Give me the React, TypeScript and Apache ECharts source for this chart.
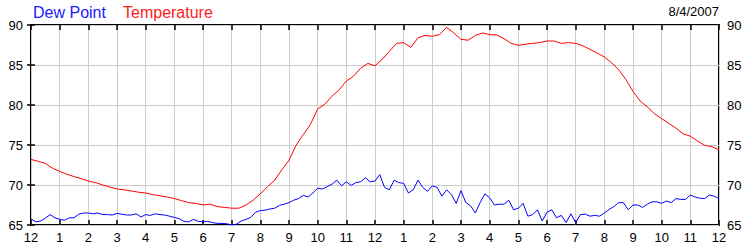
import React, { useEffect, useRef } from "react";
import * as echarts from "echarts";

// Hour tick labels (0..24)
const hourLabels = ["12", "1", "2", "3", "4", "5", "6", "7", "8", "9", "10", "11", "12", "1", "2", "3", "4", "5", "6", "7", "8", "9", "10", "11", "12"];
const yTicks = [65, 70, 75, 80, 85, 90];

// Temperature, every 15 minutes from 0:00 to 24:00 (°F)
const temperature = [
  73.2, 72.96, 72.7, 72.1, 71.7, 71.35, 71.05, 70.8, 70.5, 70.3, 70.0, 69.75, 69.5, 69.4, 69.25, 69.1, 69.0,
  68.8, 68.65, 68.5, 68.3, 68.05, 67.8, 67.7, 67.5, 67.6, 67.3, 67.2, 67.1, 67.1, 67.5, 68.1, 68.9,
  69.8, 70.6, 71.9, 73.1, 75.0, 76.3, 77.6, 79.5, 80.1, 81.1, 81.9, 83.0, 83.6, 84.6, 85.2, 84.9,
  85.7, 86.7, 87.7, 87.8, 87.2, 88.4, 88.7, 88.6, 88.8, 89.7, 89.0, 88.2, 88.1, 88.7, 89.0, 88.8,
  88.75, 88.3, 87.7, 87.45, 87.6, 87.7, 87.8, 88.0, 88.0, 87.7, 87.8, 87.7, 87.4, 86.95, 86.5, 86.0,
  85.3, 84.4, 83.2, 81.7, 80.5, 79.75, 78.9, 78.3, 77.7, 77.1, 76.4, 76.1, 75.5, 74.95, 74.8, 74.4,
];

// Dew point, every 10 minutes from 0:00 to 24:00 (°F)
const dewPoint = [
  65.75, 65.4, 65.5, 65.85, 66.3, 65.9, 65.7, 65.6, 65.9, 65.9, 66.35, 66.5, 66.5, 66.4, 66.5, 66.3, 66.3, 66.25, 66.45, 66.35, 66.25, 66.25, 66.4, 66.0, 66.3,
  66.2, 66.4, 66.3, 66.25, 66.1, 65.95, 65.8, 65.45, 65.4, 65.7, 65.45, 65.4, 65.45, 65.3, 65.2, 65.2, 65.15, 65.0, 65.1, 65.5, 65.7, 65.95, 66.6, 66.8,
  66.85, 67.0, 67.1, 67.45, 67.6, 67.8, 68.1, 68.3, 68.7, 68.5, 69.0, 69.6, 69.5, 69.8, 70.1, 70.6, 69.9, 70.4, 69.95, 70.3, 70.4, 70.9, 70.4, 70.5,
  71.3, 69.7, 69.4, 70.6, 70.3, 70.2, 69.0, 69.4, 70.6, 69.7, 69.2, 69.9, 69.7, 68.6, 69.4, 68.8, 67.7, 69.3, 67.8, 67.4, 66.5, 67.8, 68.9, 68.4,
  67.5, 67.6, 67.6, 68.1, 66.9, 67.1, 67.7, 66.1, 66.3, 66.9, 65.5, 66.6, 66.9, 65.9, 66.2, 65.3, 66.4, 65.3, 66.3, 66.35, 66.1, 66.2, 66.1, 66.5,
  66.95, 67.3, 67.8, 67.8, 66.9, 67.5, 67.5, 67.2, 67.6, 67.9, 67.9, 67.7, 68.0, 67.8, 68.3, 68.2, 68.2, 68.75, 68.5, 68.35, 68.3, 68.75, 68.6, 68.3,
];

const dateText = "8/4/2007";
const FONT = "'Liberation Sans', Arial, sans-serif";

export default function App() {
  const ref = useRef<HTMLDivElement>(null);

  useEffect(() => {
    if (!ref.current) return;
    const chart = echarts.init(ref.current, null, { renderer: "svg" });

    const tempData = temperature.map((v, i) => [i / 4, v]);
    const dewData = dewPoint.map((v, i) => [i / 6, v]);

    const xCommon = {
      type: "value" as const,
      min: 0,
      max: 24,
      interval: 1,
    };
    const yCommon = {
      type: "value" as const,
      min: yTicks[0],
      max: yTicks[yTicks.length - 1],
      interval: 5,
    };

    chart.setOption({
      animation: false,
      backgroundColor: "#ffffff",
      textStyle: { fontFamily: FONT },
      grid: {
        left: 31,
        right: 31,
        top: 25,
        bottom: 25,
        show: true,
        borderColor: "#000",
        borderWidth: 2,
        backgroundColor: "transparent",
      },
      xAxis: [
        {
          ...xCommon,
          position: "bottom",
          axisLine: { show: false },
          axisTick: { show: true, inside: true, length: 5, lineStyle: { color: "#000", width: 1.5 } },
          splitLine: { show: true, lineStyle: { color: "#cccccc", width: 1 } },
          axisLabel: {
            show: true,
            margin: 6,
            fontSize: 13,
            color: "#000",
            fontFamily: FONT,
            showMinLabel: true,
            showMaxLabel: true,
            formatter: (v: number) => hourLabels[Math.round(v)] ?? "",
          },
        },
        {
          ...xCommon,
          position: "top",
          axisLine: { show: false },
          axisTick: { show: true, inside: true, length: 5, lineStyle: { color: "#000", width: 1.5 } },
          splitLine: { show: false },
          axisLabel: { show: false },
        },
      ],
      yAxis: [
        {
          ...yCommon,
          position: "left",
          axisLine: { show: false },
          axisTick: { show: true, inside: true, length: 4, lineStyle: { color: "#000", width: 1.5 } },
          splitLine: { show: true, lineStyle: { color: "#cccccc", width: 1 } },
          axisLabel: { show: true, margin: 8, fontSize: 13, color: "#000", fontFamily: FONT },
        },
        {
          ...yCommon,
          position: "right",
          axisLine: { show: false },
          axisTick: { show: true, inside: true, length: 4, lineStyle: { color: "#000", width: 1.5 } },
          splitLine: { show: false },
          axisLabel: { show: true, margin: 8, fontSize: 13, color: "#000", fontFamily: FONT },
        },
      ],
      graphic: [
        {
          type: "text",
          left: 33,
          top: 4,
          style: { text: "Dew Point", fill: "#1a1aff", fontSize: 16, fontFamily: FONT },
        },
        {
          type: "text",
          left: 123,
          top: 4,
          style: { text: "Temperature", fill: "#ff1a1a", fontSize: 16, fontFamily: FONT },
        },
        {
          type: "text",
          right: 31,
          top: 5,
          style: { text: dateText, fill: "#000", fontSize: 13, fontFamily: FONT },
        },
      ],
      series: [
        {
          name: "Temperature",
          type: "line",
          xAxisIndex: 0,
          yAxisIndex: 0,
          data: tempData,
          showSymbol: false,
          smooth: false,
          lineStyle: { color: "#ff0000", width: 1 },
          itemStyle: { color: "#ff0000" },
          z: 3,
        },
        {
          name: "Dew Point",
          type: "line",
          xAxisIndex: 0,
          yAxisIndex: 0,
          data: dewData,
          showSymbol: false,
          smooth: false,
          lineStyle: { color: "#0000ff", width: 1 },
          itemStyle: { color: "#0000ff" },
          z: 3,
        },
      ],
    });

    return () => chart.dispose();
  }, []);

  return (
    <div
      ref={ref}
      style={{ position: "fixed", left: 0, top: 0, width: 750, height: 250 }}
    />
  );
}
